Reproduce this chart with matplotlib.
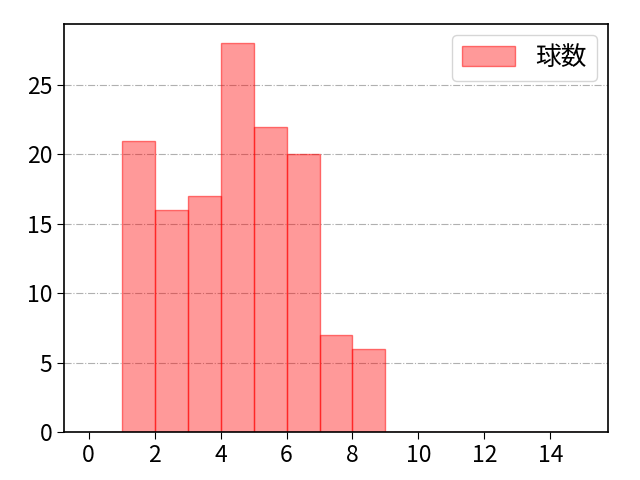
import matplotlib
matplotlib.use("Agg")
import matplotlib.pyplot as plt
import numpy as np

plt.rcParams['font.family'] = ['Noto Sans CJK JP', 'DejaVu Sans']
plt.rcParams['font.size'] = 15

bin_edges = list(range(0, 16))
counts = [0, 21, 16, 17, 28, 22, 20, 7, 6, 0, 0, 0, 0, 0, 0]
label = "球数"

fig, ax = plt.subplots(figsize=(6.4, 4.8), dpi=100)
ax.hist(bin_edges[:-1], bins=bin_edges, weights=counts,
        facecolor=(1, 0, 0, 0.4), edgecolor=(1, 0, 0, 0.5), linewidth=1, label=label)
ax.grid(axis='y', linestyle='-.', color='#b0b0b0', linewidth=0.8)
ax.set_axisbelow(True)
ax.set_xticks(range(0, 16, 2))
ax.tick_params(labelsize=16.5, length=5)
ax.legend(loc='upper right', fontsize=18.5, handlelength=2.05, handleheight=0.8,
          borderaxespad=0.42)
for s in ax.spines.values():
    s.set_linewidth(1.2)
fig.subplots_adjust(left=0.1, right=0.95, top=0.95, bottom=0.1)
fig.savefig("out.png", dpi=100)
